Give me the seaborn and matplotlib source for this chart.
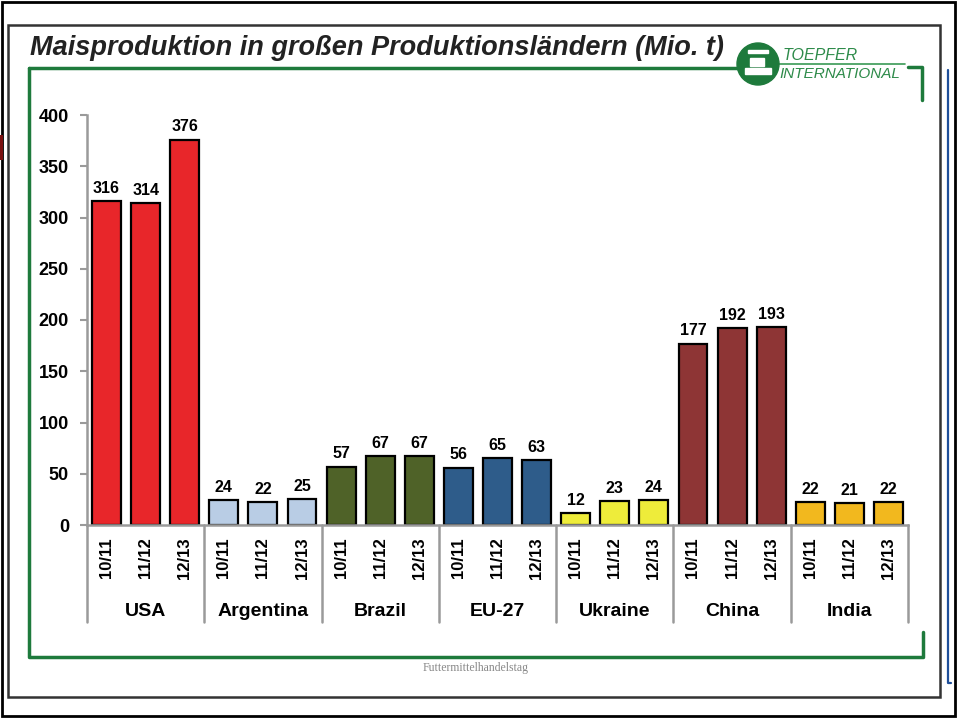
import matplotlib
matplotlib.use("Agg")
import matplotlib.pyplot as plt
import matplotlib.transforms as mtransforms
from matplotlib.patches import Ellipse, Rectangle
from matplotlib.lines import Line2D
import seaborn as sns
import pandas as pd

countries = ["USA", "Argentina", "Brazil", "EU-27", "Ukraine", "China", "India"]
seasons = ["10/11", "11/12", "12/13"]
usa = [316, 314, 376]
argentina = [24, 22, 25]
brazil = [57, 67, 67]
eu27 = [56, 65, 63]
ukraine = [12, 23, 24]
china = [177, 192, 193]
india = [22, 21, 22]
colors = ["#E8262A", "#B9CDE5", "#4F6228", "#2E5C8A", "#EEEC3A", "#8E3535", "#F2B81E"]

values = [usa, argentina, brazil, eu27, ukraine, china, india]
rows = []
for c, vals in zip(countries, values):
    for s, v in zip(seasons, vals):
        rows.append({"key": f"{c} {s}", "country": c, "season": s, "value": v})
df = pd.DataFrame(rows)

sns.set_style("white")
plt.rcParams["font.family"] = ["Liberation Sans", "DejaVu Sans"]
plt.rcParams["text.color"] = "black"
plt.rcParams["xtick.color"] = "black"
plt.rcParams["ytick.color"] = "black"

W, H = 958, 718
fig = plt.figure(figsize=(W / 100, H / 100), dpi=100)


def fx(x):
    return x / W


def fy(y):
    return 1 - y / H


ax = fig.add_axes([fx(87), fy(525), fx(908) - fx(87), fy(115) - fy(525)])
sns.barplot(data=df, x="key", y="value", hue="country", palette=colors,
            dodge=False, width=0.74, edgecolor="black", linewidth=1.6,
            saturation=1, legend=False, ax=ax)
ax.set_xlim(-0.5, len(df) - 0.5)
ax.set_ylim(0, 400)
ax.set_xlabel("")
ax.set_ylabel("")
ax.set_yticks(range(0, 401, 50))
ax.set_yticklabels([str(v) for v in range(0, 401, 50)], fontsize=13, fontweight="bold")
ax.set_xticks(range(len(df)))
ax.set_xticklabels(df["season"], rotation=90, fontsize=12, fontweight="bold")
ax.tick_params(axis="x", length=0, pad=9)
ax.tick_params(axis="y", length=5, width=1.5, color="#9A9A9A", labelcolor="black",
               pad=8, direction="out", left=True)
for s in ["top", "right"]:
    ax.spines[s].set_visible(False)
for s in ["left", "bottom"]:
    ax.spines[s].set_color("#9A9A9A")
    ax.spines[s].set_linewidth(1.8)

for i, v in enumerate(df["value"]):
    ax.text(i, v + 5, str(v), ha="center", va="bottom", fontsize=11.5,
            fontweight="bold", color="black")

trans = mtransforms.blended_transform_factory(ax.transData, ax.transAxes)
sep_bottom = -(622 - 525) / (525 - 115)
for g in range(len(countries) + 1):
    x = g * 3 - 0.5
    ax.add_line(Line2D([x, x], [0, sep_bottom], transform=trans, color="#9A9A9A",
                       lw=1.8, clip_on=False))
grp_y = -(611 - 525) / (525 - 115)
for g, c in enumerate(countries):
    ax.text(g * 3 + 1, grp_y, c, transform=trans, ha="center", va="center",
            fontsize=14, fontweight="bold", color="black")

# frames
fig.add_artist(Rectangle((fx(2), fy(716)), fx(955) - fx(2), fy(2) - fy(716),
                         transform=fig.transFigure, fill=False, ec="black", lw=2))
fig.add_artist(Rectangle((fx(8), fy(697)), fx(940) - fx(8), fy(25) - fy(697),
                         transform=fig.transFigure, fill=False, ec="#333333", lw=1.8))
green = "#1E7A3C"
fig.add_artist(Line2D([fx(29), fx(29), fx(923), fx(923)],
                      [fy(68), fy(657), fy(657), fy(632)],
                      transform=fig.transFigure, color=green, lw=2.5))
fig.add_artist(Line2D([fx(29), fx(740)], [fy(68), fy(68)],
                      transform=fig.transFigure, color=green, lw=2.5))
fig.add_artist(Line2D([fx(908), fx(922), fx(922)], [fy(67), fy(67), fy(100)],
                      transform=fig.transFigure, color=green, lw=2.5))
fig.add_artist(Line2D([fx(778), fx(905)], [fy(64), fy(64)],
                      transform=fig.transFigure, color="#3A9A55", lw=1.2))
fig.add_artist(Line2D([fx(948), fx(948), fx(951)], [fy(70), fy(683), fy(683)],
                      transform=fig.transFigure, color="#1F4F9A", lw=1.6))
fig.add_artist(Rectangle((0, fy(160)), fx(3), fy(135) - fy(160),
                         transform=fig.transFigure, color="#7A1010", lw=0))

# title
fig.text(fx(30), fy(48), "Maisproduktion in großen Produktionsländern (Mio. t)",
         fontsize=19.5, fontweight="bold", fontstyle="italic", color="#222222",
         ha="left", va="center")

# logo
r = 21
fig.add_artist(Ellipse((fx(758), fy(64)), 2 * r / W, 2 * r / H,
                       transform=fig.transFigure, color="#1E7A3C", zorder=5))
fig.add_artist(Rectangle((fx(745), fy(74)), 26 / W, 6 / H, transform=fig.transFigure,
                         color="white", zorder=6))
fig.add_artist(Rectangle((fx(750), fy(66)), 14 / W, 8 / H, transform=fig.transFigure,
                         color="white", zorder=6))
fig.add_artist(Rectangle((fx(748), fy(53)), 20 / W, 3 / H, transform=fig.transFigure,
                         color="white", zorder=6))
logo_font = ["Liberation Sans", "DejaVu Sans"]
fig.text(fx(783), fy(55), "TOEPFER", fontsize=11.5, fontstyle="italic", color="#2E8B4A",
         family=logo_font, ha="left", va="center")
fig.text(fx(779), fy(74), "INTERNATIONAL", fontsize=11, fontstyle="italic",
         color="#2E8B4A", family=logo_font, ha="left", va="center")

fig.text(fx(476), fy(668), "Futtermittelhandelstag", fontsize=8.5, color="#888888",
         family=["Liberation Serif", "DejaVu Serif"], ha="center", va="center")

fig.savefig("out.png", dpi=100)
